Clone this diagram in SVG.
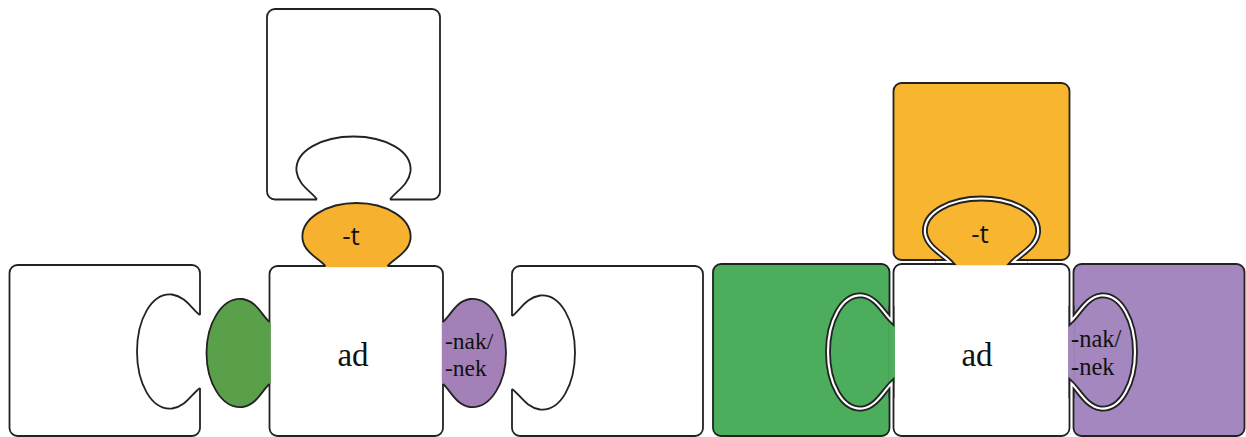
<svg xmlns="http://www.w3.org/2000/svg" width="1246" height="437" viewBox="0 0 1246 437">
<defs>
<style>
.pc{stroke:#222;stroke-width:1.8}
.ln{fill:none;stroke:#222;stroke-width:1.8;stroke-linejoin:round}
.dk{fill:none;stroke:#222;stroke-width:5.8;stroke-linejoin:miter;stroke-miterlimit:10}
.wt{fill:none;stroke:#fff;stroke-width:2.2;stroke-linejoin:miter;stroke-miterlimit:10}
.serif{font-family:"Liberation Serif",serif;fill:#111}
.sans{font-family:"Open Sans","Noto Sans",sans-serif;fill:#111}
</style>
<path id="tab" d="M -31 0 C -38 -8 -52 -13 -54 -27 C -56 -48 -29 -63 0 -63 C 29 -63 56 -48 54 -27 C 52 -13 38 -8 31 0"/>
<g id="tabfill">
<path d="M -31 0 C -38 -8 -52 -13 -54 -27 C -56 -48 -29 -63 0 -63 C 29 -63 56 -48 54 -27 C 52 -13 38 -8 31 0 Z"/>
<rect x="-31" y="-1" width="62" height="2.2"/>
</g>
<path id="sock" d="M -36.5 0 C -42 -8 -55 -14 -57 -28 C -59 -49 -31 -63 0 -63 C 31 -63 59 -49 57 -28 C 55 -14 42 -8 36.5 0"/>
<path id="cut" d="M -46 0 L -31.5 0 C -39 -8 -54.5 -15 -56.5 -29 C -58.5 -50 -30 -63.5 0 -63.5 C 30 -63.5 58.5 -50 56.5 -29 C 54.5 -15 39 -8 31.5 0 L 46 0"/>
</defs>
<rect width="1246" height="437" fill="#fff"/>

<!-- LEFT DIAGRAM -->
<g id="left-top-piece">
<rect class="pc" x="267" y="9" width="173" height="190.5" rx="8" fill="#fff"/>
<rect x="317" y="197.5" width="73" height="4" fill="#fff"/>
<use href="#sock" class="ln" transform="translate(353.5,199.5)"/>
</g>
<g id="left-left-piece">
<rect class="pc" x="9.5" y="265" width="190.5" height="171" rx="8" fill="#fff"/>
<rect x="198" y="315" width="4" height="73" fill="#fff"/>
<use href="#sock" class="ln" transform="translate(200,351.5) rotate(-90)"/>
</g>
<g id="left-right-piece">
<rect class="pc" x="512" y="266" width="191" height="170" rx="8" fill="#fff"/>
<rect x="510" y="316" width="4" height="73" fill="#fff"/>
<use href="#sock" class="ln" transform="translate(512,352.5) rotate(90)"/>
</g>
<g id="left-ad-piece">
<rect class="pc" x="269.5" y="266" width="173.5" height="170" rx="8" fill="#fff"/>
<use href="#tabfill" fill="#F6B22F" transform="translate(356.5,266)"/>
<use href="#tabfill" fill="#5A9F4A" transform="translate(269.5,353) rotate(-90)"/>
<use href="#tabfill" fill="#A480B8" transform="translate(443,353) rotate(90)"/>
<use href="#tab" class="ln" transform="translate(356.5,266)"/>
<use href="#tab" class="ln" transform="translate(269.5,353) rotate(-90)"/>
<use href="#tab" class="ln" transform="translate(443,353) rotate(90)"/>
<text class="sans" x="351" y="245" font-size="26" text-anchor="middle">-t</text>
<text class="serif" x="353" y="366" font-size="33" text-anchor="middle">ad</text>
<text class="serif" x="445" y="349" font-size="23.5">-nak/</text>
<text class="serif" x="445" y="376" font-size="23.5">-nek</text>
</g>

<!-- RIGHT DIAGRAM -->
<g id="right-top-piece">
<rect class="pc" x="893.5" y="83" width="176" height="177" rx="8" fill="#F8B52F"/>
</g>
<g id="right-left-piece">
<rect class="pc" x="713" y="264" width="176.5" height="172" rx="8" fill="#4CAE5C"/>
</g>
<g id="right-right-piece">
<rect class="pc" x="1073.5" y="264" width="171" height="172" rx="8" fill="#A387BE"/>
</g>
<g id="right-ad-piece">
<rect class="pc" x="893.5" y="264" width="176" height="172" rx="8" fill="#fff"/>
<rect x="950" y="258.5" width="63" height="6.8" fill="#F8B52F"/>
<rect x="888.2" y="320.5" width="6.6" height="63" fill="#4CAE5C"/>
<rect x="1068.2" y="320.5" width="6.6" height="63" fill="#A387BE"/>
<text class="serif" x="977" y="366" font-size="33" text-anchor="middle">ad</text>
</g>
<g id="connectors">
<g transform="translate(981.5,262)"><use href="#cut" class="dk"/><use href="#cut" class="wt"/></g>
<g transform="translate(891.5,352) rotate(-90)"><use href="#cut" class="dk"/><use href="#cut" class="wt"/></g>
<g transform="translate(1071.5,352) rotate(90)"><use href="#cut" class="dk"/><use href="#cut" class="wt"/></g>
<text class="sans" x="980" y="243" font-size="26" text-anchor="middle">-t</text>
<text class="serif" x="1071" y="347" font-size="24.5">-nak/</text>
<text class="serif" x="1071" y="375" font-size="24.5">-nek</text>
</g>
</svg>
